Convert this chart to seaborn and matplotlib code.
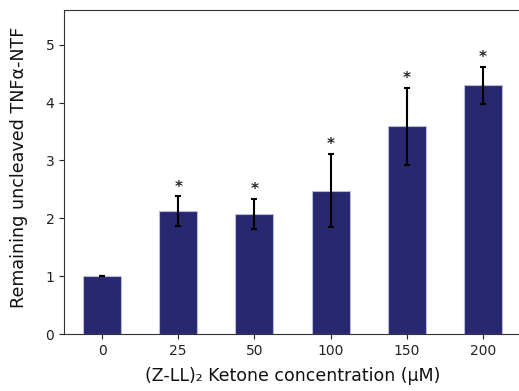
import matplotlib
matplotlib.use("Agg")
import matplotlib.pyplot as plt
import seaborn as sns
import pandas as pd
import numpy as np

concentrations = ["0", "25", "50", "100", "150", "200"]
means = [1.0, 2.12, 2.08, 2.48, 3.59, 4.30]
errors = [0.0, 0.26, 0.26, 0.63, 0.67, 0.32]
stars = ["", "*", "*", "*", "*", "*"]

df = pd.DataFrame({"conc": concentrations, "val": means})

sns.set_style("ticks")
plt.rcParams['font.family'] = ['DejaVu Sans']

fig = plt.figure(figsize=(5.19, 3.91), dpi=100)
ax = fig.add_axes([64/519, 57/391, 457/519, 324/391])

sns.barplot(data=df, x="conc", y="val", order=concentrations, color="#27286f",
            saturation=1, width=0.5, errorbar=None, edgecolor="#b8bcd6",
            linewidth=0.8, ax=ax)
xs = np.arange(len(concentrations))
ax.errorbar(xs, means, yerr=errors, fmt="none", ecolor="black", elinewidth=1.5,
            capsize=2, capthick=1.5)
for x, m, e, s in zip(xs, means, errors, stars):
    if s:
        ax.text(x, m + e + 0.03, s, ha="center", va="bottom", fontsize=11, fontweight="bold")

ax.set_xlim(-0.5, 5.5)
ax.set_ylim(0, 5.6)
ax.set_yticks([0, 1, 2, 3, 4, 5])
ax.tick_params(labelsize=10, colors="#222222")
ax.set_xlabel("(Z-LL)\u2082 Ketone concentration (\u03bcM)", fontsize=12.5, labelpad=6.5, color="#111111")
ax.set_ylabel("Remaining uncleaved TNF\u03b1-NTF", fontsize=12.6, color="#111111")
ax.yaxis.set_label_coords(-0.078, 0.515)
for sp in ax.spines.values():
    sp.set_color("#333333")

fig.savefig("out.png", dpi=100)
